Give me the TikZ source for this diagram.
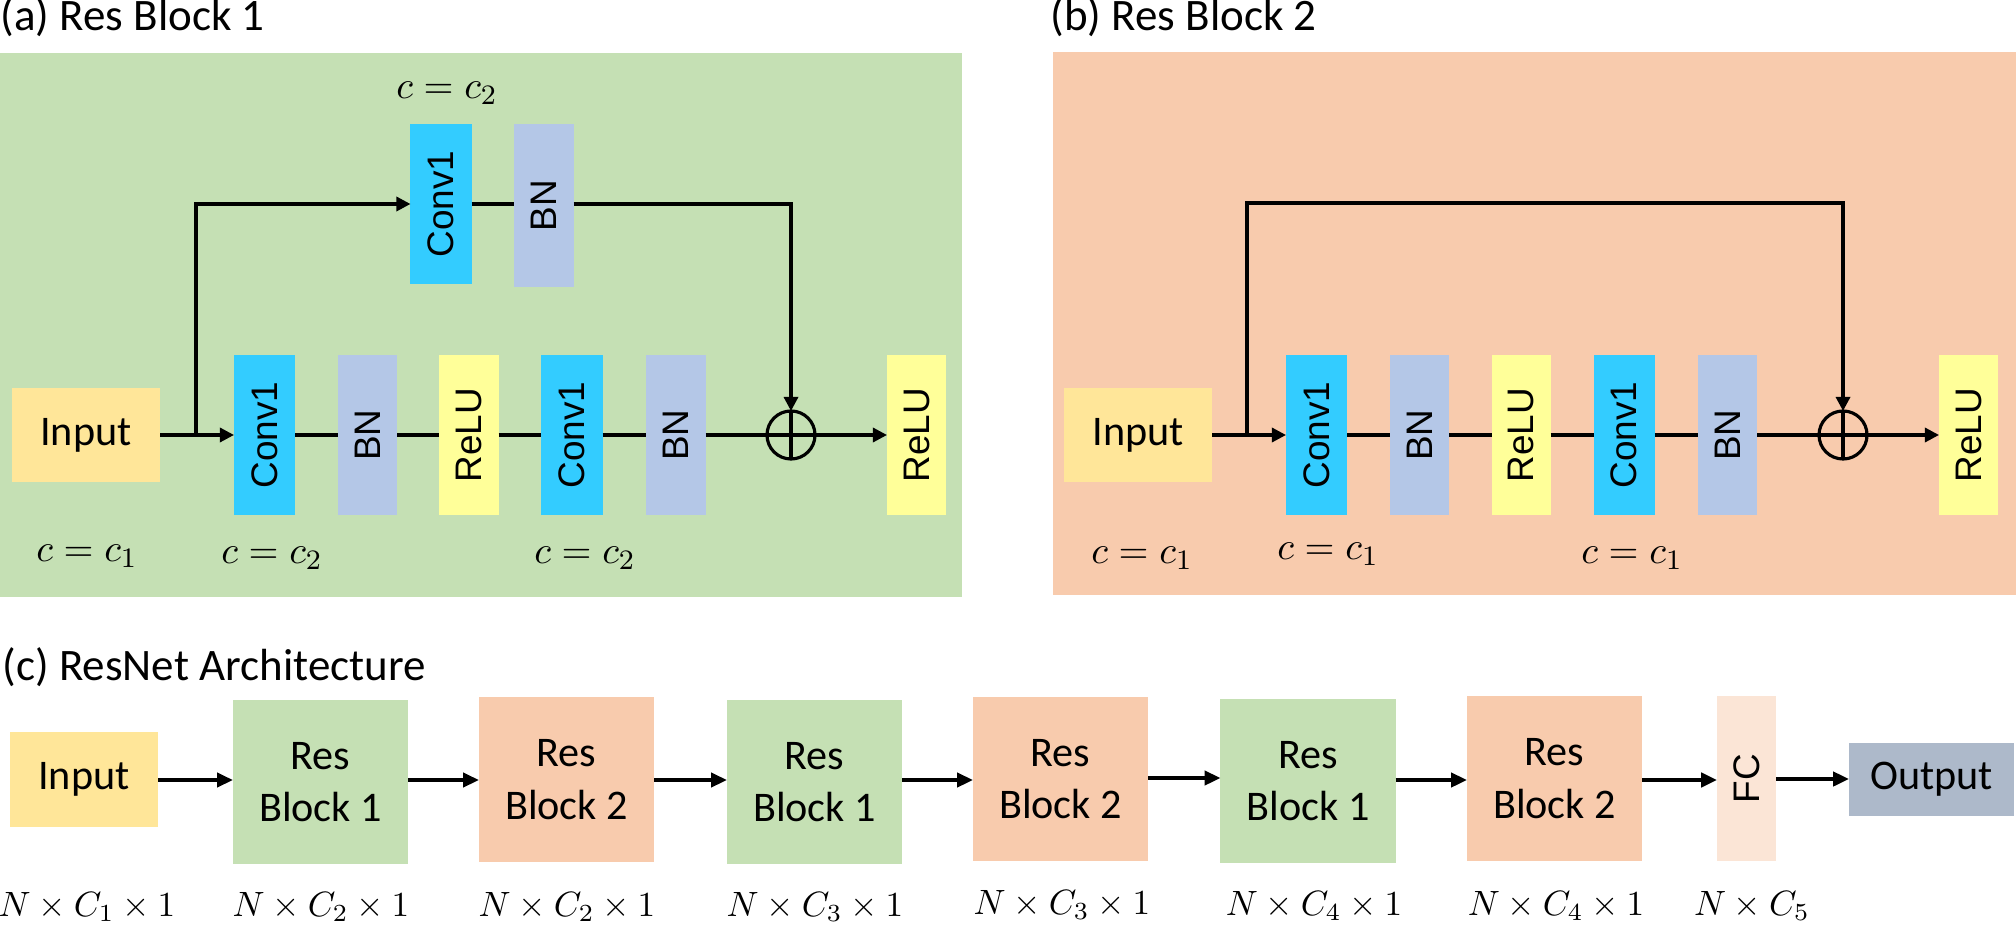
\documentclass[tikz,border=0pt]{standalone}
\usepackage{fontspec}
\setmainfont{Carlito}
\newfontfamily\arialf{Liberation Sans}
\usetikzlibrary{arrows.meta}
\definecolor{panelgreen}{HTML}{C5E0B4}
\definecolor{panelorange}{HTML}{F8CBAD}
\definecolor{inputyellow}{HTML}{FFE699}
\definecolor{convblue}{HTML}{33CCFF}
\definecolor{bnblue}{HTML}{B4C7E7}
\definecolor{reluyellow}{HTML}{FFFF99}
\definecolor{fcpeach}{HTML}{FBE5D6}
\definecolor{outgray}{HTML}{ADB9CA}
\tikzset{
  rotfont/.style={font=\arialf\fontsize{10.5}{12}\selectfont},
  blk/.style={inner sep=0pt, outer sep=0pt, minimum height=1.6cm},
  convblk/.style={blk, fill=convblue, minimum width=0.61cm, label={[rotate=90,rotfont]center:Conv1}},
  bnblk/.style={blk, fill=bnblue, minimum width=0.59cm, label={[rotate=90,rotfont]center:BN}},
  relublk/.style={blk, fill=reluyellow, minimum width=0.59cm, label={[rotate=90,rotfont]center:ReLU}},
  inblk/.style={inner sep=0pt, outer sep=0pt, fill=inputyellow, minimum width=1.48cm, minimum height=0.94cm, font=\fontsize{12}{15}\selectfont},
  resg/.style={inner sep=0pt, outer sep=0pt, fill=panelgreen, minimum width=1.75cm, minimum height=1.64cm, align=center, font=\fontsize{12}{15}\selectfont},
  reso/.style={resg, fill=panelorange},
  sumnode/.style={circle, draw, line width=0.9pt, minimum size=0.48cm, inner sep=0pt, outer sep=0pt},
  ln/.style={line width=0.9pt},
  arr/.style={line width=0.9pt, -{Triangle[length=4pt,width=4pt]}},
  barr/.style={line width=1.1pt, -{Triangle[length=4.5pt,width=4pt]}},
  ttl/.style={anchor=base west, inner sep=0pt, font=\fontsize{12.8}{15}\selectfont},
  mlab/.style={inner sep=0pt, font=\fontsize{11}{13}\selectfont},
  nlab/.style={inner sep=0pt, font=\fontsize{10}{12}\selectfont},
}
\begin{document}
\begin{tikzpicture}[x=0.01cm,y=-0.01cm]
\useasboundingbox (0,0) rectangle (2016,925);
% panels
\fill[panelgreen] (0,53) rectangle (962,597);
\fill[panelorange] (1053,52) rectangle (2016,595);
\node[ttl] (ta) at (0,31) {(a) Res Block 1};
\node[ttl] (tb) at (1050,31) {(b) Res Block 2};
\node[ttl] (tc) at (2,680) {(c) ResNet Architecture};

% ---- panel (a)
\node[mlab] (ca0) at (447,93) {$c = c_2$};
\node[convblk] (cvta) at (441,204) {};
\node[bnblk, minimum height=1.63cm] (bnta) at (544,205.5) {};
\node[inblk] (ina) at (86,435) {Input};
\node[convblk] (cv1a) at (264.5,435) {};
\node[bnblk] (bn1a) at (367.5,435) {};
\node[relublk] (rl1a) at (469,435) {};
\node[convblk] (cv2a) at (572,435) {};
\node[bnblk] (bn2a) at (676,435) {};
\node[sumnode] (suma) at (791,435) {};
\node[relublk] (rl2a) at (916.5,435) {};
\draw[ln] (suma.north) -- (suma.south) (suma.west) -- (suma.east);
\node[mlab] (ca1) at (87,556) {$c = c_1$};
\node[mlab] (ca2) at (272,558) {$c = c_2$};
\node[mlab] (ca3) at (585,558) {$c = c_2$};
\coordinate (bra) at (196,435);
\draw[arr] (ina) -- (cv1a);
\draw[ln] (cv1a) -- (bn1a);
\draw[ln] (bn1a) -- (rl1a);
\draw[ln] (rl1a) -- (cv2a);
\draw[ln] (cv2a) -- (bn2a);
\draw[ln] (bn2a) -- (suma);
\draw[arr] (suma) -- (rl2a);
\draw[arr] (bra) |- (cvta.west);
\draw[ln] (cvta.east) -- (bnta.west |- cvta.east);
\draw[arr] (bnta.east |- cvta.east) -| (suma.north);

% ---- panel (b)
\node[inblk] (inb) at (1138,435) {Input};
\node[convblk] (cv1b) at (1316.5,435) {};
\node[bnblk] (bn1b) at (1419.5,435) {};
\node[relublk] (rl1b) at (1521,435) {};
\node[convblk] (cv2b) at (1624,435) {};
\node[bnblk] (bn2b) at (1727.5,435) {};
\node[sumnode] (sumb) at (1843,435) {};
\node[relublk] (rl2b) at (1968.5,435) {};
\draw[ln] (sumb.north) -- (sumb.south) (sumb.west) -- (sumb.east);
\node[mlab] (cb1) at (1142,558) {$c = c_1$};
\node[mlab] (cb2) at (1328,554) {$c = c_1$};
\node[mlab] (cb3) at (1632,558) {$c = c_1$};
\coordinate (brb) at (1247,435);
\coordinate (brbt) at (1247,203);
\draw[arr] (inb) -- (cv1b);
\draw[ln] (cv1b) -- (bn1b);
\draw[ln] (bn1b) -- (rl1b);
\draw[ln] (rl1b) -- (cv2b);
\draw[ln] (cv2b) -- (bn2b);
\draw[ln] (bn2b) -- (sumb);
\draw[arr] (sumb) -- (rl2b);
\draw[arr] (brb) -- (brbt) -| (sumb.north);

% ---- panel (c)
\node[inblk, minimum height=0.95cm] (in) at (84,779.5) {Input};
\node[resg] (r1) at (320.5,782) {Res\\Block 1};
\node[reso] (r2) at (566.5,779.5) {Res\\Block 2};
\node[resg] (r3) at (814.5,782) {Res\\Block 1};
\node[reso] (r4) at (1060.5,779) {Res\\Block 2};
\node[resg] (r5) at (1308,781) {Res\\Block 1};
\node[reso] (r6) at (1554.5,778.5) {Res\\Block 2};
\node[inner sep=0pt, outer sep=0pt, fill=fcpeach, minimum width=0.59cm, minimum height=1.65cm, label={[rotate=90,rotfont]center:FC}] (fc) at (1746.5,778.5) {};
\node[inner sep=0pt, outer sep=0pt, fill=outgray, minimum width=1.65cm, minimum height=0.73cm, font=\fontsize{12}{15}\selectfont] (out) at (1931.5,779.5) {Output};
\draw[barr] (in.east |- 0,780) -- (r1.west |- 0,780);
\draw[barr] (r1.east |- 0,780) -- (r2.west |- 0,780);
\draw[barr] (r2.east |- 0,780) -- (r3.west |- 0,780);
\draw[barr] (r3.east |- 0,780) -- (r4.west |- 0,780);
\draw[barr] (r4.east |- 0,778) -- (r5.west |- 0,778);
\draw[barr] (r5.east |- 0,780) -- (r6.west |- 0,780);
\draw[barr] (r6.east |- 0,780) -- (fc.west |- 0,780);
\draw[barr] (fc.east |- 0,779) -- (out.west |- 0,779);
\node[nlab] (l0) at (87,907) {$N \times C_1 \times 1$};
\node[nlab] (l1) at (321,907) {$N \times C_2 \times 1$};
\node[nlab] (l2) at (567,907) {$N \times C_2 \times 1$};
\node[nlab] (l3) at (815,907) {$N \times C_3 \times 1$};
\node[nlab] (l4) at (1062,905) {$N \times C_3 \times 1$};
\node[nlab] (l5) at (1314,906) {$N \times C_4 \times 1$};
\node[nlab] (l6) at (1556,906) {$N \times C_4 \times 1$};
\node[nlab] (l7) at (1752,906) {$N \times C_5$};
\end{tikzpicture}
\end{document}
